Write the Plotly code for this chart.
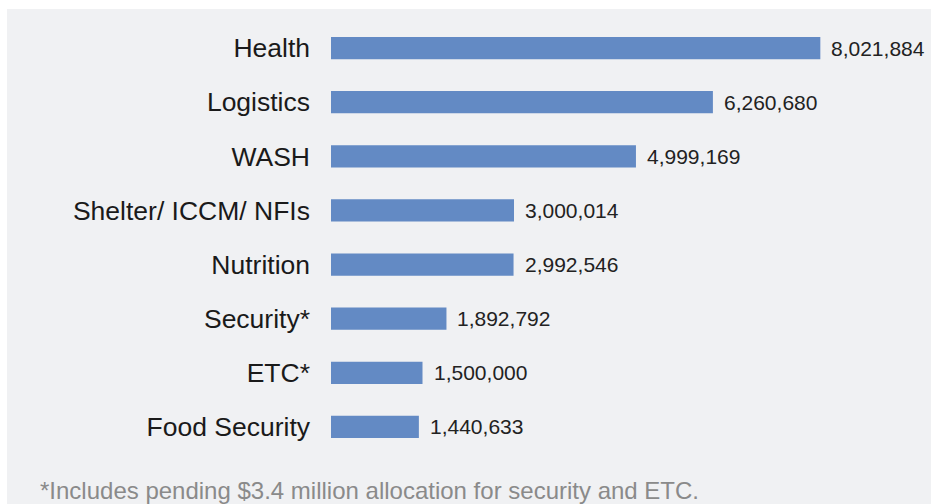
import plotly.graph_objects as go

categories = ["Health", "Logistics", "WASH", "Shelter/ ICCM/ NFIs", "Nutrition",
              "Security*", "ETC*", "Food Security"]
values = [8021884, 6260680, 4999169, 3000014, 2992546, 1892792, 1500000, 1440633]
footnote = "*Includes pending $3.4 million allocation for security and ETC."

W, H = 931, 504
ml, mr, mt, mb = 331, 2, 21, 50
pw, ph = W - ml - mr, H - mt - mb

fig = go.Figure(go.Bar(
    x=values, y=categories, orientation="h",
    marker=dict(color="#638ac4", line=dict(width=0)),
    width=0.41, hoverinfo="skip",
))

for c, v in zip(categories, values):
    fig.add_annotation(x=v, y=c, text=f"{v:,}", showarrow=False,
                       xanchor="left", yanchor="middle", xshift=9,
                       font=dict(size=21, color="#222222"))

fig.add_annotation(xref="paper", yref="paper", x=(38 - ml) / pw, y=-(490 - (mt + ph)) / ph,
                   text=footnote, showarrow=False, xanchor="left", yanchor="middle",
                   font=dict(size=24, color="#8a8a8a"))

fig.add_shape(type="rect", xref="paper", yref="paper", layer="below",
              x0=(7 - ml) / pw, x1=1 + (mr + 5) / pw,
              y0=-(mb + 5) / ph, y1=1 + (mt - 9) / ph,
              fillcolor="#f0f1f3", line=dict(width=0))

fig.update_layout(
    width=W, height=H,
    margin=dict(l=ml, r=mr, t=mt, b=mb, pad=0),
    paper_bgcolor="white", plot_bgcolor="rgba(0,0,0,0)",
    font=dict(family="Liberation Sans, Arial, sans-serif"),
    showlegend=False,
    xaxis=dict(range=[0, pw / 61.0 * 1e6], visible=False, fixedrange=True),
    yaxis=dict(autorange="reversed", showgrid=False, zeroline=False, showline=False,
               ticks="", ticklabelstandoff=20,
               tickfont=dict(size=26.5, color="#1a1a1a"), fixedrange=True),
)

fig.write_html("out.html", config={"displayModeBar": False},
               post_script="document.body.style.margin='0';document.body.style.overflow='hidden';")
